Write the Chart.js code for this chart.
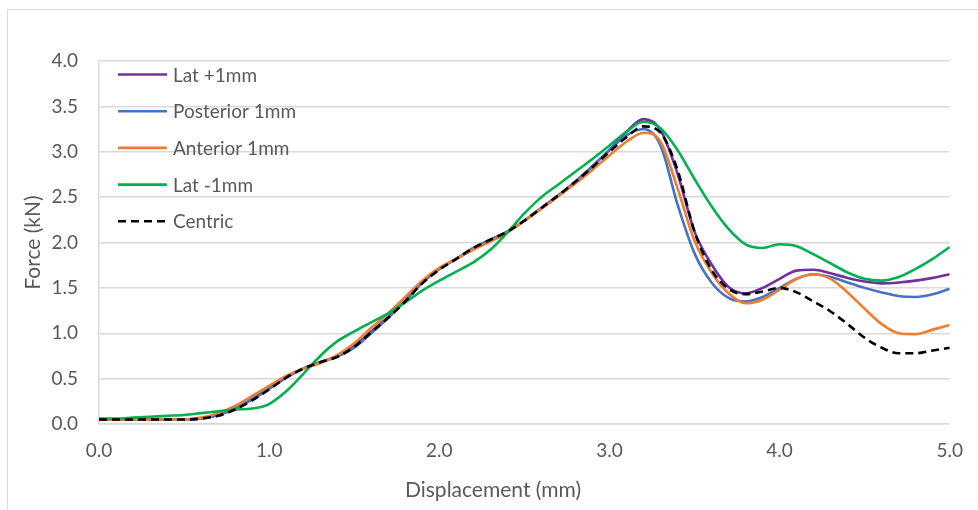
<!DOCTYPE html>
<html>
<head>
<meta charset="utf-8">
<script src="https://cdn.jsdelivr.net/npm/chart.js@4.4.1/dist/chart.umd.min.js"></script>
<style>
  html, body { margin: 0; padding: 0; background: #ffffff; }
  #wrap { position: relative; width: 978px; height: 510px; }
</style>
</head>
<body>
<div id="wrap"><canvas id="chart" width="978" height="510"></canvas></div>
<script>
// Displacement (mm), shared by all series
const displacement = [
  0.0, 0.1, 0.2, 0.3, 0.4, 0.5, 0.6, 0.7, 0.8, 0.9,
  1.0, 1.1, 1.2, 1.3, 1.4, 1.5, 1.6, 1.7, 1.8, 1.9,
  2.0, 2.1, 2.2, 2.3, 2.4, 2.5, 2.6, 2.7, 2.8, 2.9,
  3.0, 3.1, 3.2, 3.3, 3.4, 3.5, 3.6, 3.7, 3.8, 3.9,
  4.0, 4.1, 4.2, 4.3, 4.4, 4.5, 4.6, 4.7, 4.8, 4.9, 5.0
];

// Force (kN) per loading position
const latPlus1 = [
  0.05, 0.05, 0.05, 0.05, 0.05, 0.05, 0.06, 0.10, 0.17, 0.27,
  0.39, 0.51, 0.61, 0.68, 0.75, 0.86, 1.02, 1.18, 1.36, 1.56,
  1.71, 1.82, 1.93, 2.03, 2.12, 2.24, 2.38, 2.52, 2.67, 2.84,
  3.02, 3.22, 3.36, 3.24, 2.76, 2.12, 1.76, 1.51, 1.44, 1.50,
  1.60, 1.69, 1.70, 1.66, 1.61, 1.57, 1.55, 1.56, 1.58, 1.61, 1.65
];
const posterior1 = [
  0.05, 0.05, 0.05, 0.05, 0.05, 0.05, 0.06, 0.10, 0.17, 0.28,
  0.40, 0.52, 0.61, 0.68, 0.74, 0.84, 1.00, 1.17, 1.36, 1.56,
  1.71, 1.82, 1.94, 2.03, 2.12, 2.24, 2.38, 2.52, 2.67, 2.84,
  3.02, 3.18, 3.25, 3.07, 2.42, 1.88, 1.56, 1.39, 1.35, 1.40,
  1.50, 1.60, 1.65, 1.62, 1.56, 1.50, 1.45, 1.41, 1.40, 1.43, 1.49
];
const anterior1 = [
  0.05, 0.05, 0.05, 0.05, 0.05, 0.05, 0.07, 0.12, 0.20, 0.31,
  0.42, 0.53, 0.61, 0.67, 0.76, 0.89, 1.06, 1.22, 1.40, 1.58,
  1.72, 1.82, 1.92, 2.01, 2.11, 2.24, 2.37, 2.51, 2.65, 2.80,
  2.96, 3.11, 3.21, 3.11, 2.60, 2.02, 1.67, 1.44, 1.33, 1.37,
  1.48, 1.60, 1.65, 1.60, 1.45, 1.27, 1.10, 1.00, 0.99, 1.04, 1.09
];
const latMinus1 = [
  0.06, 0.06, 0.07, 0.08, 0.09, 0.10, 0.12, 0.14, 0.16, 0.17,
  0.22, 0.36, 0.55, 0.75, 0.91, 1.02, 1.12, 1.22, 1.34, 1.47,
  1.58, 1.68, 1.78, 1.92, 2.11, 2.32, 2.50, 2.64, 2.78, 2.92,
  3.07, 3.22, 3.33, 3.26, 3.02, 2.70, 2.40, 2.15, 1.98, 1.94,
  1.98, 1.96, 1.87, 1.77, 1.67, 1.60, 1.58, 1.62, 1.71, 1.82, 1.95
];
const centric = [
  0.05, 0.05, 0.05, 0.05, 0.05, 0.05, 0.06, 0.09, 0.16, 0.26,
  0.38, 0.51, 0.61, 0.68, 0.74, 0.85, 1.01, 1.17, 1.35, 1.55,
  1.70, 1.82, 1.94, 2.03, 2.12, 2.24, 2.38, 2.52, 2.67, 2.83,
  3.00, 3.16, 3.28, 3.21, 2.80, 2.12, 1.70, 1.49, 1.43, 1.46,
  1.50, 1.45, 1.35, 1.24, 1.10, 0.95, 0.84, 0.78, 0.78, 0.81, 0.84
];

const seriesNames = ['Lat +1mm', 'Posterior 1mm', 'Anterior 1mm', 'Lat -1mm', 'Centric'];
const yTicks = [0.0, 0.5, 1.0, 1.5, 2.0, 2.5, 3.0, 3.5, 4.0];
const xTicks = [0.0, 1.0, 2.0, 3.0, 4.0, 5.0];
const xTitle = 'Displacement (mm)';
const yTitle = 'Force (kN)';

const FONT = 'Lato, "Open Sans", "Liberation Sans", sans-serif';
const TEXT = '#595959';

function points(ys) {
  return displacement.map((x, i) => ({ x: x, y: ys[i] }));
}

function line(label, ys, color, order, dash) {
  return {
    label: label,
    data: points(ys),
    borderColor: color,
    backgroundColor: color,
    borderWidth: 2.6,
    borderDash: dash || [],
    pointRadius: 0,
    cubicInterpolationMode: 'monotone',
    fill: false,
    order: order
  };
}

// Legend drawn inside the plot area, stacked vertically at top-left
const insideLegend = {
  id: 'insideLegend',
  afterDatasetsDraw(chart) {
    const ctx = chart.ctx;
    const area = chart.chartArea;
    const x0 = area.left + 19;
    const lineLen = 49;
    const step = 36.7;
    const y0 = area.top + 13.5;
    ctx.save();
    ctx.font = '19px ' + FONT;
    ctx.textBaseline = 'middle';
    ctx.fillStyle = TEXT;
    chart.data.datasets.forEach((ds, i) => {
      const y = y0 + i * step;
      ctx.beginPath();
      ctx.strokeStyle = ds.borderColor;
      ctx.lineWidth = 2.6;
      ctx.setLineDash(ds.borderDash || []);
      ctx.moveTo(x0, y);
      ctx.lineTo(x0 + lineLen, y);
      ctx.stroke();
      ctx.setLineDash([]);
      ctx.fillText(ds.label, x0 + lineLen + 6, y + 1);
    });
    ctx.restore();
  }
};

// Horizontal axis title, centred on the whole chart box
const xAxisTitle = {
  id: 'xAxisTitle',
  afterDraw(chart) {
    const ctx = chart.ctx;
    ctx.save();
    ctx.font = '21px ' + FONT;
    ctx.fillStyle = TEXT;
    ctx.textAlign = 'center';
    ctx.textBaseline = 'middle';
    ctx.fillText(xTitle, 493, 490);
    ctx.restore();
  }
};

// Thin outer frame of the chart box
const frame = {
  id: 'frame',
  beforeDraw(chart) {
    const ctx = chart.ctx;
    ctx.save();
    ctx.fillStyle = '#ffffff';
    ctx.fillRect(0, 0, chart.width, chart.height);
    ctx.strokeStyle = '#d9d9d9';
    ctx.lineWidth = 1;
    ctx.beginPath();
    ctx.moveTo(7.5, chart.height);
    ctx.lineTo(7.5, 9.5);
    ctx.lineTo(chart.width, 9.5);
    ctx.stroke();
    ctx.restore();
  }
};

new Chart(document.getElementById('chart'), {
  type: 'line',
  data: {
    datasets: [
      line(seriesNames[0], latPlus1, '#7030a0', 4),
      line(seriesNames[1], posterior1, '#4472c4', 3),
      line(seriesNames[2], anterior1, '#ed7d31', 2),
      line(seriesNames[3], latMinus1, '#00b050', 1),
      line(seriesNames[4], centric, '#000000', 0, [8, 5])
    ]
  },
  options: {
    responsive: false,
    animation: false,
    devicePixelRatio: 1,
    layout: { padding: { left: 21, right: 28, top: 61, bottom: 8 } },
    plugins: {
      legend: { display: false },
      tooltip: { enabled: false }
    },
    scales: {
      x: {
        type: 'linear',
        min: 0,
        max: 5,
        afterBuildTicks(scale) { scale.ticks = xTicks.map(v => ({ value: v })); },
        afterFit(scale) { scale.height = 78; },
        grid: { display: false, drawTicks: false },
        border: { display: true, color: '#d9d9d9', width: 1.5 },
        ticks: {
          color: TEXT,
          font: { family: FONT, size: 19 },
          padding: 15,
          callback: v => Number(v).toFixed(1)
        },
        title: { display: false }
      },
      y: {
        type: 'linear',
        min: 0,
        max: 4,
        afterBuildTicks(scale) { scale.ticks = yTicks.map(v => ({ value: v })); },
        afterFit(scale) { scale.width = 78; },
        grid: { color: '#d9d9d9', lineWidth: 1.5, drawTicks: false },
        border: { display: true, color: '#d9d9d9', width: 1.5 },
        ticks: {
          color: TEXT,
          font: { family: FONT, size: 19 },
          padding: 21,
          callback: v => Number(v).toFixed(1)
        },
        title: {
          display: true,
          text: yTitle,
          color: TEXT,
          font: { family: FONT, size: 21 },
          padding: { top: 0, bottom: 4 }
        }
      }
    }
  },
  plugins: [frame, insideLegend, xAxisTitle]
});
</script>
</body>
</html>
